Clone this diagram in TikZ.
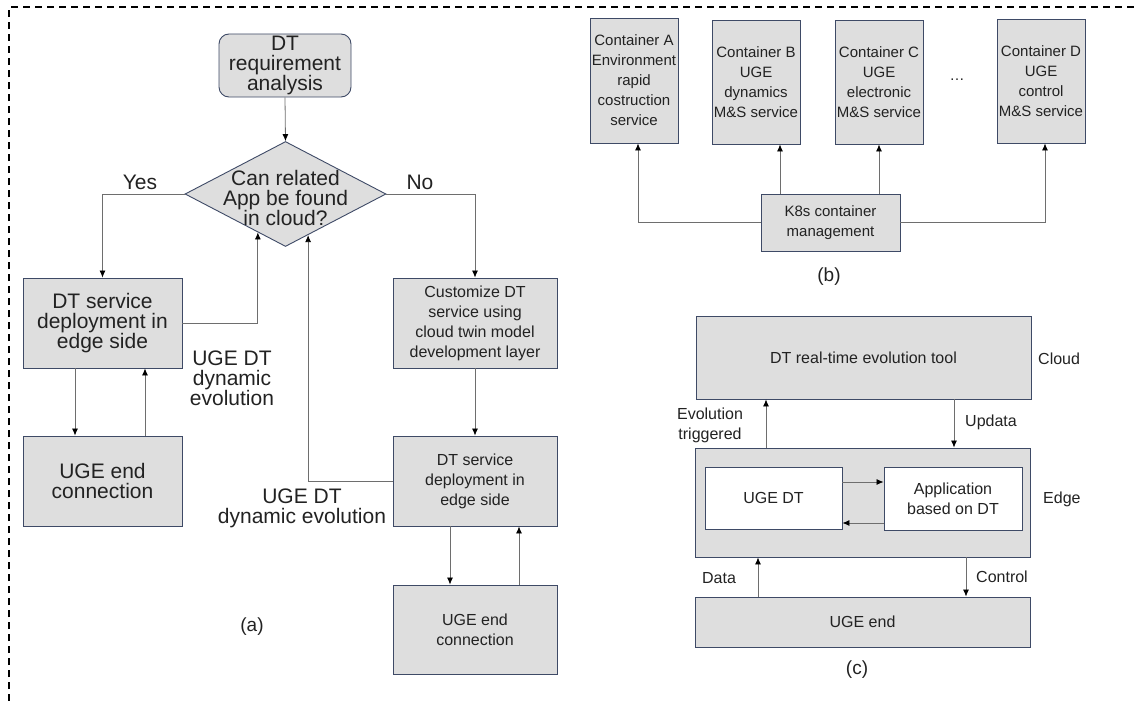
\documentclass[tikz,border=0pt]{standalone}
\usepackage{fontspec}
\setmainfont{Liberation Sans}
\usetikzlibrary{arrows.meta,shapes.geometric,calc}
\definecolor{boxfill}{HTML}{DEDEDE}
\definecolor{boxline}{HTML}{3E4A66}
\definecolor{conn}{HTML}{6E6E6E}
\definecolor{txt}{HTML}{222222}
\newcommand{\bigfont}{\fontsize{21}{20}\selectfont}
\newcommand{\smallfont}{\fontsize{16}{20}\selectfont}
\newcommand{\cfont}{\fontsize{15}{20}\selectfont}
\newcommand{\pfont}{\fontsize{19}{20}\selectfont}
\begin{document}
\begin{tikzpicture}[x=1pt,y=-1pt,
  box/.style={draw=boxline, fill=boxfill, line width=0.9pt, inner sep=0pt, align=center, text=txt},
  wbox/.style={box, fill=white},
  arr/.style={draw=conn, line width=0.8pt, -{Latex[length=7pt,width=6pt,color=black]}},
  lbl/.style={text=txt, inner sep=0pt, align=center},
  lbll/.style={text=txt, inner sep=0pt, align=left, anchor=west}]
\useasboundingbox (0,0) rectangle (1135,701);
\draw[black, line width=1.2pt, dash pattern=on 7pt off 5pt] (9,701) -- (9,7) -- (1135,7);

% ---------- panel (a) ----------
\node[box, rounded corners=10pt, font=\bigfont, minimum width=132pt, minimum height=63pt] (req) at (285,65.5) {DT\\requirement\\analysis};
\node[box, diamond, minimum width=201pt, minimum height=105pt] (dia) at (285.5,194) {};
\node[lbl, font=\bigfont] (diat) at (285.5,198) {Can related\\App be found\\in cloud?};
\node[box, font=\bigfont, minimum width=159pt, minimum height=90pt] (lb1) at (102.5,323) {DT service\\deployment in\\edge side};
\node[box, font=\bigfont, minimum width=159pt, minimum height=90pt] (lb2) at (102.5,481) {UGE end\\connection};
\node[box, font=\smallfont, minimum width=164pt, minimum height=90pt] (cb) at (475,323) {Customize DT\\service using\\cloud twin model\\development layer};
\node[box, font=\smallfont, minimum width=164pt, minimum height=90pt] (rb1) at (475,481) {DT service\\deployment in\\edge side};
\node[box, font=\smallfont, minimum width=164pt, minimum height=89pt] (rb2) at (475,629.5) {UGE end\\connection};

\node[lbl, font=\bigfont] (yes) at (140,182) {Yes};
\node[lbl, font=\bigfont] (no) at (420,182) {No};
\node[lbl, font=\bigfont] (evo1) at (232,378) {UGE DT\\dynamic\\evolution};
\node[lbl, font=\bigfont] (evo2) at (302,508) {UGE DT\\dynamic evolution};
\node[lbl, font=\pfont] (pa) at (252,627) {(a)};

\coordinate (dl) at ($(dia.south)!0.274!(dia.west)$);
\coordinate (dr) at ($(dia.south)!0.224!(dia.east)$);
\coordinate (l1d) at ($(lb1.south)+(-27.5,0)$);
\coordinate (l1u) at ($(lb1.south)+(42.5,0)$);
\coordinate (r1d) at ($(rb1.south)+(-25,0)$);
\coordinate (r1u) at ($(rb1.south)+(44,0)$);

\draw[arr] (req.south) -- (dia.north);
\draw[arr] (dia.west) -| (lb1.north);
\draw[arr] (dia.east) -| (cb.north);
\draw[arr] (lb1.east) -| (dl);
\draw[arr] (rb1.west) -| (dr);
\draw[arr] (l1d) -- (l1d |- lb2.north);
\draw[arr] (l1u |- lb2.north) -- (l1u);
\draw[arr] (cb.south) -- (rb1.north);
\draw[arr] (r1d) -- (r1d |- rb2.north);
\draw[arr] (r1u |- rb2.north) -- (r1u);

% ---------- panel (b) ----------
\node[box, font=\cfont, minimum width=88pt, minimum height=125pt] (ca) at (634,80.5) {Container A\\Environment\\rapid\\costruction\\service};
\node[box, font=\cfont, minimum width=88pt, minimum height=124pt] (cbb) at (756,82) {Container B\\UGE\\dynamics\\M\&S service};
\node[box, font=\cfont, minimum width=88pt, minimum height=124pt] (cc) at (879,82) {Container C\\UGE\\electronic\\M\&S service};
\node[lbl, font=\cfont] (dots) at (957,80) {…};
\node[box, font=\cfont, minimum width=88pt, minimum height=124pt] (cd) at (1041,81) {Container D\\UGE\\control\\M\&S service};
\node[box, font=\cfont, minimum width=139pt, minimum height=57pt] (k8s) at (830.5,222.5) {K8s container\\management};
\node[lbl, font=\pfont] (pb) at (829,277) {(b)};

\coordinate (ka) at ($(ca.south)+(4,0)$);
\coordinate (kb) at ($(k8s.north)+(-50.5,0)$);
\coordinate (kc) at ($(k8s.north)+(48.5,0)$);
\coordinate (kd) at ($(cd.south)+(4,0)$);
\draw[arr] (k8s.west) -| (ka);
\draw[arr] (kb) -- (kb |- cbb.south);
\draw[arr] (kc) -- (kc |- cc.south);
\draw[arr] (k8s.east) -| (kd);

% ---------- panel (c) ----------
\node[box, font=\smallfont, minimum width=335pt, minimum height=83pt] (cloud) at (863.5,357.5) {DT real-time evolution tool};
\node[box, minimum width=335pt, minimum height=109pt] (edge) at (862.5,502.5) {};
\node[wbox, font=\smallfont, minimum width=137pt, minimum height=62pt] (ugedt) at (773.5,498) {UGE DT};
\node[wbox, font=\smallfont, minimum width=138pt, minimum height=63pt] (app) at (953,498.5) {Application\\based on DT};
\node[box, font=\smallfont, minimum width=335pt, minimum height=50pt] (ugeend) at (862.5,622) {UGE end};

\node[lbll, font=\smallfont] (lcloud) at (1038,359) {Cloud};
\node[lbll, font=\smallfont] (ledge) at (1043,499) {Edge};
\node[lbl, font=\smallfont] (levo) at (710,425) {Evolution\\triggered};
\node[lbll, font=\smallfont] (lupd) at (965,422) {Updata};
\node[lbl, font=\smallfont] (ldata) at (719,578) {Data};
\node[lbll, font=\smallfont] (lctrl) at (976,577) {Control};
\node[lbl, font=\pfont] (pc) at (857,670) {(c)};

\coordinate (ce) at ($(edge.north)+(-96.5,0)$);
\coordinate (cu) at ($(cloud.south)+(90.5,0)$);
\coordinate (ua) at ($(ugedt.east)+(0,-16)$);
\coordinate (ub) at ($(app.west)+(0,24.5)$);
\coordinate (ed) at ($(ugeend.north)+(-104.5,0)$);
\coordinate (ec) at ($(edge.south)+(103.5,0)$);
\draw[arr] (ce) -- (ce |- cloud.south);
\draw[arr] (cu) -- (cu |- edge.north);
\draw[arr] (ua) -- (ua -| app.west);
\draw[arr] (ub) -- (ub -| ugedt.east);
\draw[arr] (ed) -- (ed |- edge.south);
\draw[arr] (ec) -- (ec |- ugeend.north);
\end{tikzpicture}
\end{document}
